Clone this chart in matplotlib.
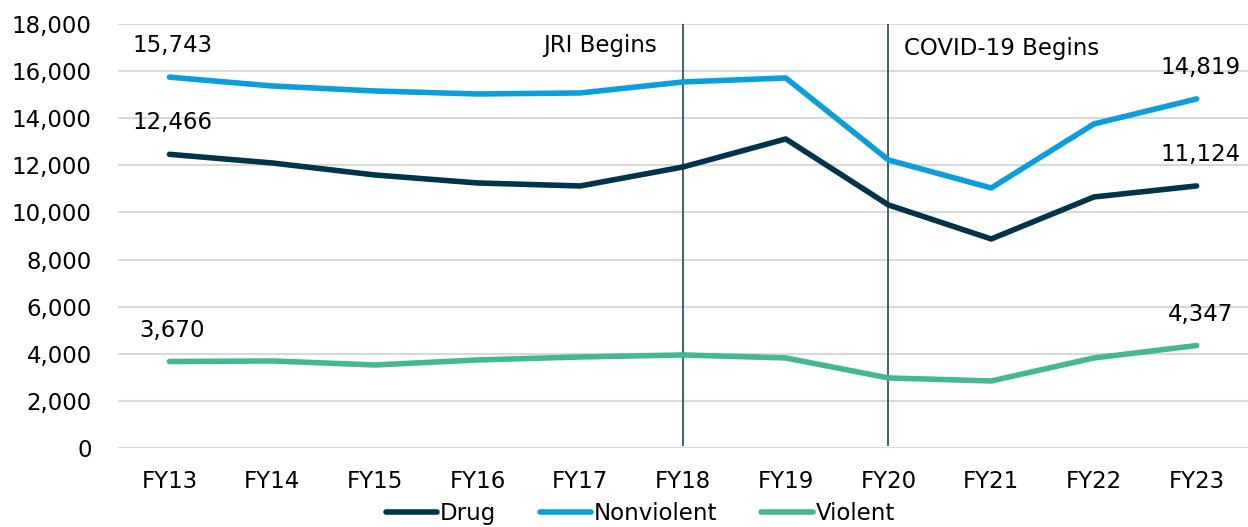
import matplotlib
matplotlib.use("Agg")
import matplotlib.pyplot as plt
from matplotlib.ticker import FuncFormatter

years = ["FY13", "FY14", "FY15", "FY16", "FY17", "FY18", "FY19", "FY20", "FY21", "FY22", "FY23"]
drug = [12466, 12099, 11590, 11250, 11123, 11929, 13118, 10316, 8873, 10656, 11124]
nonviolent = [15743, 15368, 15156, 15028, 15071, 15538, 15708, 12226, 11038, 13755, 14819]
violent = [3670, 3693, 3523, 3736, 3863, 3948, 3821, 2972, 2844, 3821, 4347]

c_drug = "#00344a"
c_nonv = "#0a9fda"
c_viol = "#45b893"

plt.rcParams['font.family'] = ['DejaVu Sans']
fs = 16.5

fig = plt.figure(figsize=(12.48, 5.27), dpi=100)
ax = fig.add_axes([0.0946, 0.15, 0.9054, 0.8045])

x = list(range(len(years)))
ax.plot(x, drug, color=c_drug, lw=4, label="Drug", solid_capstyle="round", zorder=3)
ax.plot(x, nonviolent, color=c_nonv, lw=4, label="Nonviolent", solid_capstyle="round", zorder=3)
ax.plot(x, violent, color=c_viol, lw=4, label="Violent", solid_capstyle="round", zorder=3)

ax.set_ylim(0, 18000)
ax.set_xlim(-0.5, len(years) - 0.5)
ax.set_yticks(range(0, 18001, 2000))
ax.yaxis.set_major_formatter(FuncFormatter(lambda v, p: f"{int(v):,}"))
ax.set_xticks(x)
ax.set_xticklabels(years)
ax.tick_params(axis='both', length=0, labelsize=fs, colors="black")
ax.tick_params(axis='x', pad=16)
ax.tick_params(axis='y', pad=19)
ax.grid(axis='y', color="#d9d9d9", lw=1.5, zorder=0)
ax.set_axisbelow(True)
for s in ax.spines.values():
    s.set_visible(False)

# event lines
ax.vlines([5, 7], 100, 18000, color="#1c4a57", lw=1.2, zorder=2)
ax.text(4.75, 17100, "JRI Begins", ha="right", va="center", fontsize=fs)
ax.text(7.15, 16980, "COVID-19 Begins", ha="left", va="center", fontsize=fs)

# data labels at ends
for series, dy in ((nonviolent, 1350), (drug, 1350), (violent, 1300)):
    ax.text(0.03, series[0] + dy, f"{series[0]:,}", ha="center", va="center", fontsize=fs)
    ax.text(10.04, series[-1] + dy, f"{series[-1]:,}", ha="center", va="center", fontsize=fs)

leg = fig.legend(loc="center", bbox_to_anchor=(0.513, 0.026), ncol=3, frameon=False,
                 fontsize=fs, handlelength=2.25, handletextpad=0.12, columnspacing=1.9)
for h in leg.get_lines():
    h.set_linewidth(4)
    h.set_solid_capstyle("round")

fig.savefig("out.png", dpi=100)
